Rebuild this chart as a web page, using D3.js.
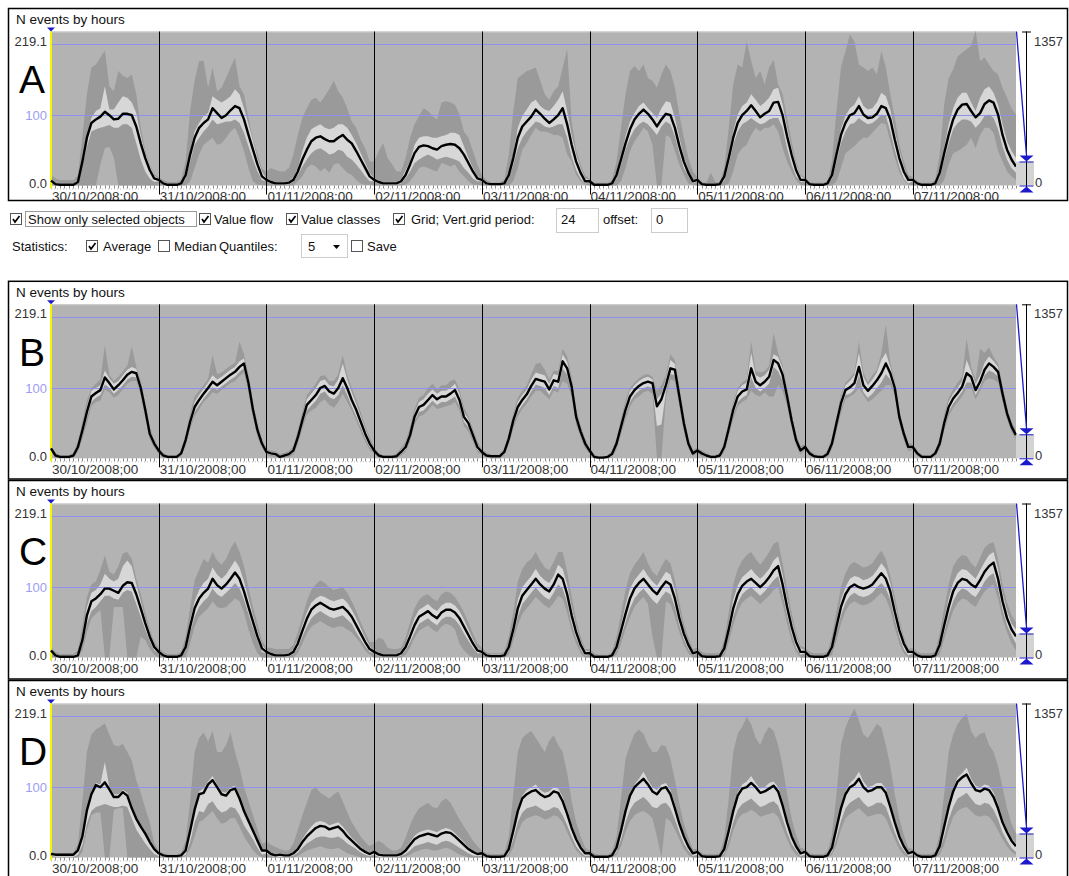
<!DOCTYPE html>
<html><head><meta charset="utf-8">
<script src="https://cdn.jsdelivr.net/npm/d3@7"></script>
<style>
body{margin:0;background:#fff;}
svg{display:block;font-family:"Liberation Sans",Arial,sans-serif;}
</style></head><body>
<svg id="chart" width="1069" height="876"></svg>
<script>
// ---------------- data ----------------
const dayLabels = ["30/10/2008;00","31/10/2008;00","01/11/2008;00","02/11/2008;00","03/11/2008;00","04/11/2008;00","05/11/2008;00","06/11/2008;00","07/11/2008;00"];
const panelLetters = ["A","B","C","D"];
const panelTitle = "N events by hours";
const yMaxValue = 219.1;
const yGridValues = [100, 200];
const yLabelTop = "219.1", yLabelMid = "100", yLabelBottom = "0.0";
const sliderLabels = ["1357", "0"];

const meanA = [
7,2,1,1,1,1, 5,34,68,89,94,98, 105,100,94,95,102,102, 100,84,60,39,22,10,
8,3,1,1,1,3, 15,44,68,82,89,94, 110,103,96,100,107,113, 110,94,72,51,30,13,
8,5,3,3,3,4, 8,20,37,51,63,68, 70,66,63,63,68,72, 65,60,49,37,25,13,
8,5,3,3,3,3, 6,15,30,46,55,57, 56,53,51,56,58,59, 58,53,44,32,20,10,
8,3,2,2,2,3, 15,39,68,84,91,98, 108,102,95,89,94,100, 110,87,58,34,18,6,
6,1,1,1,1,3, 15,37,60,80,94,102, 108,102,94,84,94,102, 100,82,56,34,18,6,
8,2,1,1,1,2, 13,39,68,89,100,106, 114,106,97,102,106,118, 119,100,70,44,22,8,
8,2,1,1,1,3, 15,44,72,89,100,103, 113,101,96,97,102,113, 110,94,65,39,20,8,
8,3,1,1,1,3, 18,46,72,94,108,115, 116,106,97,103,116,121, 118,101,72,51,37,27];
const lightHiA = [
9,4,3,3,3,3, 8,38,72,96,106,110, 141,108,108,118,127,125, 118,103,72,46,28,14,
10,5,3,3,3,5, 20,49,77,89,99,103, 127,122,118,122,127,137, 130,110,87,63,39,20,
10,7,5,5,5,6, 12,25,49,68,80,84, 87,82,80,82,87,87, 82,72,60,46,32,18,
10,7,5,5,5,5, 9,22,34,58,68,70, 70,68,68,70,72,75, 75,72,56,39,25,13,
10,5,4,4,4,5, 20,44,82,99,108,118, 122,113,108,106,113,122, 134,106,72,44,25,10,
8,3,3,3,3,5, 20,41,70,91,103,113, 118,110,103,96,110,120, 118,96,68,41,22,8,
10,4,3,3,3,4, 18,44,77,101,113,118, 130,122,113,118,125,137, 139,115,82,53,30,13,
10,4,3,3,3,5, 20,49,80,99,110,115, 127,113,108,110,118,132, 127,108,77,49,27,10,
10,5,3,3,3,5, 23,53,87,110,125,132, 132,118,106,125,137,141, 132,115,87,63,49,39];
const lightLoA = [
5,1,0,0,0,0, 3,28,55,77,80,82, 84,86,82,82,87,87, 82,60,37,20,10,5,
6,1,0,0,0,1, 10,34,58,68,77,84, 94,87,89,91,91,94, 89,75,56,37,20,8,
6,3,1,1,1,2, 5,15,27,37,46,51, 53,49,44,46,51,49, 41,37,30,22,13,6,
6,3,1,1,1,1, 3,10,20,32,37,41, 44,41,37,39,41,39, 37,34,25,18,10,6,
6,1,0,0,0,1, 10,30,53,68,77,84, 91,89,84,82,84,87, 87,68,41,22,10,3,
4,0,0,0,0,1, 10,30,51,68,80,87, 91,87,80,72,84,91, 87,70,46,25,13,3,
6,0,0,0,0,0, 8,30,58,77,87,91, 96,91,87,89,94,96, 96,82,53,30,13,5,
6,0,0,0,0,1, 10,34,60,77,87,89, 96,91,87,89,94,101, 99,77,51,27,10,3,
6,1,0,0,0,1, 12,37,60,80,89,94, 94,91,82,89,99,101, 96,80,56,37,25,18];
const darkHiA = [
15,10,8,8,8,8, 15,70,130,168,172,182, 192,141,134,163,156,153, 158,130,82,50,30,16,
12,8,5,5,5,8, 34,106,149,177,177,139, 168,134,139,153,168,182, 141,130,96,65,45,24,
20,25,22,20,20,25, 44,72,96,110,122,125, 118,127,137,149,134,125, 110,91,82,65,53,34,
34,49,60,39,30,20, 20,39,68,87,99,110, 106,99,94,118,120,118, 115,101,77,68,49,30,
15,8,5,5,5,8, 44,106,153,158,163,165, 168,149,130,122,134,141, 168,194,91,50,30,14,
10,4,4,4,4,8, 34,82,130,163,170,163, 172,153,149,139,158,172, 163,139,101,68,39,20,
12,5,4,18,5,5, 25,82,144,172,168,205, 177,153,163,144,168,179, 144,130,96,63,34,15,
12,5,4,4,4,6, 34,106,168,191,215,205, 172,168,163,168,158,191, 168,130,96,58,34,15,
12,6,4,4,4,8, 44,115,153,165,184,189, 194,199,220,177,182,172, 163,158,139,125,110,101];
const darkLoA = [
0,0,0,0,0,0, 0,0,0,0,0,30, 53,55,40,0,0,0, 0,0,0,0,0,0,
0,0,0,0,0,0, 0,6,25,44,58,63, 68,58,60,68,77,82, 68,49,25,6,1,1,
0,0,0,0,0,0, 0,6,13,25,30,27, 20,25,18,30,32,25, 18,15,8,3,1,1,
0,0,0,0,0,0, 0,1,6,15,25,27, 25,22,20,32,30,27, 30,20,13,6,1,1,
0,0,0,0,0,0, 0,6,25,51,60,72, 82,77,77,75,72,72, 68,44,34,15,6,1,
0,0,0,0,0,0, 0,6,25,49,63,72, 82,77,58,0,0,72, 68,49,30,15,3,1,
0,0,0,0,0,0, 0,3,20,44,53,58, 72,82,77,82,82,87, 77,53,34,20,8,1,
0,0,0,0,0,0, 0,6,25,46,51,56, 63,68,68,75,82,89, 87,63,39,20,8,1,
0,0,0,0,0,0, 0,8,30,46,49,53, 58,68,53,72,82,82, 75,49,34,20,13,8];

const meanB = [
14,4,2,2,2,4, 16,40,66,88,93,97, 115,107,98,104,111,119, 123,121,100,69,35,21,
11,4,2,2,2,7, 26,52,73,83,92,100, 109,104,109,114,119,123, 130,135,107,69,40,21,
9,7,6,2,4,6, 11,30,54,76,83,90, 100,103,95,92,100,114, 100,83,69,52,35,21,
11,4,2,2,2,3, 9,16,33,59,73,76, 83,90,84,88,88,92, 97,83,59,50,33,16,
9,4,3,3,3,9, 28,54,73,83,91,103, 113,111,109,98,111,109, 138,128,102,59,38,21,
11,2,1,1,2,6, 21,45,69,88,97,103, 107,109,107,74,84,104, 128,126,88,50,21,7,
11,7,4,2,2,4, 16,42,69,88,95,98, 128,109,104,109,116,140, 135,119,88,54,26,11,
16,7,3,2,2,6, 21,50,78,97,101,107, 130,104,96,103,111,121, 135,121,100,59,35,16,
16,7,2,2,2,7, 21,50,73,85,93,102, 121,116,97,109,126,135, 130,123,92,64,45,33];
const lightHiB = [
16,6,3,3,3,6, 20,46,74,96,100,104, 125,114,106,110,118,126, 130,127,106,75,40,25,
13,6,3,3,3,9, 30,58,80,90,99,108, 118,112,116,121,126,130, 138,142,114,75,45,24,
11,9,8,4,6,8, 14,35,60,84,92,100, 110,112,104,102,112,135, 112,94,78,60,42,26,
13,6,3,3,3,5, 12,20,38,65,80,84, 92,98,92,96,96,100, 106,92,66,56,38,20,
11,6,4,4,4,12, 32,60,80,90,98,112, 122,120,118,106,120,118, 148,137,110,65,42,24,
13,4,2,2,3,9, 25,51,76,96,104,110, 114,116,112,84,92,112, 140,134,96,56,24,9,
13,9,6,3,3,6, 20,48,76,96,104,108, 150,118,115,118,126,148, 144,128,96,60,30,14,
18,9,5,3,3,9, 25,56,85,104,110,118, 150,116,104,112,122,140, 150,130,106,64,38,18,
18,9,3,3,3,9, 25,56,80,92,100,110, 140,124,106,118,136,145, 138,130,98,68,48,36];
const lightLoB = [
12,2,1,1,1,2, 12,34,58,80,86,90, 105,100,92,97,104,112, 116,115,94,63,31,18,
9,2,1,1,1,5, 21,46,66,76,85,93, 101,97,102,107,112,116, 123,128,100,63,35,18,
7,5,4,1,2,4, 8,25,48,68,75,82, 92,95,87,84,90,104, 90,74,60,44,29,16,
9,2,1,1,1,1, 6,12,28,53,66,68, 75,82,76,80,80,84, 88,74,52,44,28,12,
7,2,1,1,1,6, 24,48,66,76,84,95, 105,103,100,90,103,100, 128,119,94,53,34,18,
9,0,0,0,1,3, 17,39,62,80,90,96, 100,102,100,46,48,94, 120,118,80,44,18,5,
9,5,2,1,1,2, 12,36,62,80,86,90, 115,100,95,100,106,130, 124,110,80,48,22,8,
14,5,2,1,1,4, 17,44,70,90,92,98, 118,94,86,92,100,108, 120,112,94,53,30,13,
14,5,1,1,1,5, 17,44,66,78,86,95, 108,108,90,102,118,125, 122,116,86,60,42,30];
const darkHiB = [
18,8,4,4,4,8, 24,52,82,100,106,112, 161,118,110,116,124,132, 159,130,110,78,44,27,
15,8,4,4,4,11, 34,64,88,96,104,113, 147,120,122,127,132,136, 166,148,118,80,50,26,
13,11,10,6,8,10, 17,40,66,90,98,106, 117,118,110,110,120,147, 118,100,84,66,46,30,
15,8,4,4,4,7, 15,24,44,70,86,90, 100,106,98,104,104,110, 112,98,72,60,42,24,
13,8,5,5,5,14, 36,64,86,96,104,120, 134,136,126,112,125,124, 156,145,116,70,46,28,
15,6,3,3,4,11, 29,56,82,100,108,114, 118,120,116,96,104,118, 148,140,100,60,28,12,
15,11,8,4,4,8, 24,52,80,100,108,112, 166,124,122,124,132,178, 150,132,100,64,34,17,
20,11,7,4,4,11, 29,60,90,108,114,122, 166,122,108,118,126,150, 190,136,110,68,42,22,
20,11,5,4,4,11, 29,62,86,98,108,116, 170,130,112,156,150,158, 144,135,104,72,52,40];
const darkLoB = [
10,1,0,0,0,1, 9,28,50,74,80,82, 98,94,86,90,98,106, 110,110,90,58,27,15,
7,1,0,0,0,3, 18,42,60,70,80,86, 94,92,97,102,107,110, 117,122,95,58,30,15,
5,3,2,0,1,2, 5,20,42,62,68,72, 80,84,76,72,80,92, 80,68,54,38,24,12,
7,1,0,0,0,0, 4,9,24,48,60,62, 68,76,70,72,74,76, 80,68,46,38,24,9,
5,1,0,0,0,4, 20,42,60,70,78,88, 96,96,90,84,96,94, 110,106,88,48,30,14,
7,0,0,0,0,1, 13,34,56,74,84,88, 94,96,92,0,0,86, 112,110,74,38,14,3,
7,3,1,0,0,1, 9,32,56,74,80,84, 96,90,88,94,88,88, 104,96,74,44,18,5,
12,3,1,0,0,2, 13,38,64,84,88,92, 100,90,80,84,90,96, 104,104,90,50,26,10,
12,3,0,0,0,3, 13,40,60,72,80,88, 100,100,84,96,110,114, 112,108,80,56,38,27];

const meanC = [
10,3,1,1,1,1, 3,25,60,80,84,90, 98,98,95,92,102,107, 106,90,70,49,30,15,
8,3,1,1,1,3, 15,44,70,84,92,98, 112,103,98,104,112,121, 112,94,72,51,30,13,
8,5,3,3,3,4, 8,20,38,55,68,74, 78,74,70,68,70,72, 66,58,46,34,22,12,
8,5,3,3,3,3, 6,15,30,46,58,62, 66,60,56,64,68,68, 64,56,44,32,20,10,
8,3,2,2,2,3, 15,40,70,88,96,104, 112,104,98,94,104,118, 112,90,60,36,18,6,
6,1,1,1,1,3, 15,38,62,84,98,106, 112,104,96,90,100,108, 104,84,56,34,18,6,
8,2,1,1,1,2, 13,40,70,90,102,108, 112,106,100,106,114,124, 130,104,72,44,22,8,
8,2,1,1,1,3, 15,44,72,90,100,104, 100,98,100,104,112,120, 112,94,65,39,20,8,
8,3,1,1,1,3, 18,46,72,94,106,112, 110,104,100,110,122,130, 135,112,80,56,40,30];
const lightHiC = [
12,5,3,3,3,3, 6,35,72,92,96,104, 119,112,108,112,130,138, 130,104,80,56,36,18,
10,5,3,3,3,5, 20,52,80,96,106,112, 128,118,112,118,128,138, 128,108,84,60,38,18,
10,7,5,5,5,6, 12,26,46,64,78,84, 88,86,82,80,82,84, 78,68,56,42,28,16,
10,7,5,5,5,5, 9,20,38,56,68,72, 76,70,66,74,78,78, 74,66,54,40,26,14,
10,5,4,4,4,5, 20,48,82,100,108,116, 126,116,110,106,116,132, 126,104,72,44,24,10,
8,3,3,3,3,5, 20,46,74,98,110,118, 126,116,108,102,112,122, 118,96,66,40,22,8,
10,4,3,3,3,4, 18,48,82,102,114,120, 126,118,112,118,126,138, 144,118,84,54,30,13,
10,4,3,3,3,5, 20,52,82,100,112,116, 114,110,112,116,124,134, 126,106,76,48,26,10,
10,5,3,3,3,5, 23,54,84,106,120,126, 124,118,112,124,136,146, 150,126,92,66,48,40];
const lightLoC = [
7,1,0,0,0,0, 1,18,48,66,72,80, 88,88,84,82,92,96, 94,76,58,40,24,10,
6,1,0,0,0,1, 10,36,58,72,80,86, 98,90,86,92,98,106, 98,82,62,42,24,8,
6,3,1,1,1,2, 5,14,30,44,56,62, 66,62,58,56,58,60, 54,48,36,26,16,8,
6,3,1,1,1,1, 3,10,22,36,48,52, 56,50,46,54,58,58, 54,46,34,24,14,6,
6,1,0,0,0,1, 10,32,58,76,84,92, 100,92,86,82,92,104, 98,78,48,28,12,3,
4,0,0,0,0,1, 10,30,50,70,84,92, 98,90,82,76,86,94, 90,72,46,26,12,3,
6,0,0,0,0,0, 8,32,58,78,90,96, 100,94,88,94,102,110, 116,90,60,34,14,4,
6,0,0,0,0,1, 10,36,60,78,88,92, 88,86,88,92,100,106, 98,82,54,30,12,3,
6,1,0,0,0,1, 12,36,60,80,92,98, 96,90,86,96,108,116, 120,98,68,46,32,20];
const darkHiC = [
15,8,5,5,5,5, 10,46,86,104,108,125, 145,122,118,130,148,150, 140,112,90,64,40,22,
14,8,5,5,5,8, 30,70,110,125,140,135, 150,138,132,140,155,165, 150,130,100,72,48,24,
14,14,12,12,12,12, 18,36,58,80,96,104, 110,106,100,96,98,100, 92,80,66,50,36,22,
22,28,26,14,12,12, 14,28,50,70,82,88, 90,84,80,90,94,92, 86,76,64,50,34,20,
14,8,6,6,6,8, 30,64,108,126,135,140, 150,138,128,124,136,150, 150,122,86,54,30,12,
12,6,4,4,4,8, 30,62,96,120,132,140, 150,134,122,116,130,140, 134,110,78,48,28,12,
14,8,6,6,6,6, 26,64,104,126,138,146, 150,140,132,140,150,162, 165,134,98,64,36,16,
14,8,6,6,6,8, 30,66,100,120,132,136, 132,128,130,134,144,152, 140,116,86,54,30,12,
14,8,6,6,6,8, 34,70,104,130,140,146, 144,134,128,142,156,162, 164,140,104,78,60,50];
const darkLoC = [
0,0,0,0,0,0, 0,10,36,56,62,68, 0,0,72,72,72,0, 0,0,30,25,12,4,
0,0,0,0,0,0, 0,20,44,58,64,70, 80,72,70,72,78,84, 80,64,40,20,6,0,
0,0,0,0,0,0, 0,6,20,34,44,48, 52,48,44,42,44,44, 40,36,28,20,10,4,
0,0,0,0,0,0, 0,4,14,28,38,42, 46,40,36,44,48,46, 40,20,10,4,0,0,
0,0,0,0,0,0, 4,24,46,62,70,78, 86,80,74,70,78,88, 84,64,38,20,6,0,
0,0,0,0,0,0, 4,20,40,58,72,80, 86,76,30,0,0,80, 76,58,36,18,6,0,
0,0,0,0,0,0, 2,22,46,66,78,84, 88,82,76,82,88,96, 100,76,48,24,8,0,
0,0,0,0,0,0, 4,24,48,66,76,80, 76,74,76,80,86,92, 84,68,42,20,6,0,
0,0,0,0,0,0, 4,26,48,66,78,84, 82,76,72,84,94,100, 104,84,56,36,20,10];

const meanD = [
5,4,4,4,4,4, 10,30,67,90,103,100, 107,97,86,86,93,88, 70,55,44,34,22,12,
6,3,2,2,2,3, 10,38,68,90,92,104, 110,100,90,88,96,98, 84,66,52,38,24,10,
10,5,3,4,3,3, 6,12,22,30,36,42, 45,44,40,42,44,38, 30,24,18,12,8,5,
8,4,3,3,3,3, 5,10,18,26,30,32, 34,32,30,34,36,35, 30,24,18,12,8,5,
6,2,1,1,1,2, 12,38,66,84,90,94, 96,90,86,88,94,92, 80,62,42,26,14,6,
6,1,1,1,1,3, 14,38,66,88,100,106, 112,104,94,90,98,100, 90,70,48,30,16,6,
8,2,1,1,1,2, 12,38,66,88,98,100, 106,100,92,94,98,102, 94,74,50,30,16,6,
8,2,1,1,1,3, 14,42,70,90,100,104, 112,100,94,96,100,100, 92,72,50,30,16,6,
8,3,1,1,1,3, 16,44,72,94,108,114, 118,106,96,94,98,96, 86,70,50,36,24,16];
const lightHiD = [
6,5,5,5,5,5, 11,32,70,94,106,104, 136,100,90,90,96,92, 74,58,46,36,24,14,
8,5,4,4,4,5, 12,40,72,94,98,108, 116,104,94,92,100,102, 86,68,54,40,26,12,
12,7,5,6,5,5, 8,15,26,36,44,50, 52,50,46,48,50,44, 36,28,22,15,10,7,
10,6,5,5,5,5, 7,13,22,31,36,38, 40,38,36,40,42,40, 35,28,22,15,10,7,
8,4,3,3,3,4, 15,42,70,88,96,100, 104,96,92,94,100,98, 86,68,48,30,18,8,
8,3,3,3,3,5, 17,42,70,92,104,112, 122,110,100,96,104,106, 96,76,54,34,20,8,
10,4,3,3,3,4, 15,42,70,92,104,108, 116,106,98,100,106,108, 100,80,56,34,20,8,
10,4,3,3,3,5, 17,46,74,94,106,112, 122,108,100,102,106,106, 98,78,56,34,20,8,
10,5,3,3,3,5, 19,48,76,98,114,120, 128,112,102,100,104,102, 92,76,56,40,28,20];
const lightLoD = [
2,1,1,1,1,1, 4,18,48,66,72,74, 76,74,72,72,74,72, 56,40,30,20,12,5,
2,1,0,0,0,1, 4,22,50,66,64,76, 80,70,64,66,72,70, 60,46,36,26,14,4,
6,2,1,1,1,1, 3,7,14,20,24,28, 30,30,28,28,30,26, 20,16,12,7,4,2,
4,1,0,0,0,0, 2,5,10,16,18,20, 22,20,18,22,24,22, 18,14,10,6,3,2,
3,0,0,0,0,0, 6,26,50,64,70,72, 74,70,66,68,72,70, 60,46,30,16,8,2,
3,0,0,0,0,1, 8,26,50,68,78,82, 86,80,72,70,76,78, 70,54,36,20,10,2,
4,0,0,0,0,0, 6,26,50,68,76,80, 84,78,72,74,78,80, 74,56,36,20,10,2,
4,0,0,0,0,1, 8,28,52,70,78,82, 86,78,72,74,78,78, 72,54,36,20,10,2,
4,1,0,0,0,1, 10,30,54,72,84,88, 92,84,76,74,78,76, 68,54,36,24,14,8];
const darkHiD = [
8,6,6,6,6,6, 20,80,150,175,182,186, 191,175,160,158,162,150, 138,110,92,70,50,20,
10,6,5,5,5,6, 24,80,150,170,178,165, 180,150,150,160,178,150, 128,100,80,60,40,20,
22,18,15,12,10,10, 20,40,60,78,96,100, 92,88,84,90,94,80, 64,50,40,30,22,16,
20,24,20,14,10,10, 14,28,46,60,70,74, 78,72,70,80,84,78, 66,54,44,34,24,16,
10,6,5,5,5,6, 30,90,150,170,176,180, 170,160,150,166,174,160, 150,120,80,50,30,14,
10,6,4,4,4,8, 30,84,140,160,176,182, 176,160,150,150,160,158, 140,110,76,48,28,12,
12,6,5,5,5,6, 28,84,150,176,186,200, 190,170,160,176,186,180, 160,130,90,56,32,14,
12,6,5,5,5,8, 32,90,160,185,200,212, 195,175,170,180,190,185, 160,130,90,56,32,14,
12,6,5,5,5,8, 34,90,150,175,190,198, 205,180,170,176,178,160, 150,130,100,70,48,34];
const darkLoD = [
0,0,0,0,0,0, 0,8,40,60,64,64, 0,0,68,70,70,0, 0,0,0,0,0,0,
0,0,0,0,0,0, 2,12,30,50,54,60, 66,56,48,50,56,56, 44,30,20,10,4,0,
0,0,0,0,0,0, 0,2,6,10,12,14, 16,14,12,12,14,10, 6,4,2,0,0,0,
0,0,0,0,0,0, 0,1,4,8,10,12, 12,10,10,12,14,12, 8,4,2,0,0,0,
0,0,0,0,0,0, 2,14,36,50,56,58, 60,58,54,56,60,58, 50,36,22,10,4,0,
0,0,0,0,0,0, 4,16,36,52,60,64, 66,62,56,30,0,56, 52,40,26,12,4,0,
0,0,0,0,0,0, 2,16,38,54,62,64, 68,64,58,60,62,64, 58,42,26,12,4,0,
0,0,0,0,0,0, 4,18,40,56,62,66, 70,64,58,60,62,62, 56,40,26,12,4,0,
0,0,0,0,0,0, 4,18,40,58,66,70, 72,66,60,58,60,58, 50,38,26,16,8,4];

// controls text
const row1Items = ["Show only selected objects", "Value flow", "Value classes", "Grid; Vert.grid period:"];
const row1Checked = [true, true, true, true];
const gridPeriod = "24", gridOffsetLabel = "offset:", gridOffset = "0";
const row2Label = "Statistics:";
const row2Items = ["Average", "Median"];
const row2Checked = [true, false];
const quantLabel = "Quantiles:", quantValue = "5", saveLabel = "Save";

// ---------------- drawing ----------------
const svg = d3.select("#chart");
const COL = {bg:"#b3b3b3", dark:"#9a9a9a", light:"#d7d7d7", grid:"#8f8ff0", gridText:"#9d9df2", text:"#333", blue:"#1a1acc"};
const panels = [
  {letter:panelLetters[0], boxTop:8, boxBottom:201, mean:meanA, lLo:lightLoA, lHi:lightHiA, dLo:darkLoA, dHi:darkHiA},
  {letter:panelLetters[1], boxTop:280.8, boxBottom:479.5, mean:meanB, lLo:lightLoB, lHi:lightHiB, dLo:darkLoB, dHi:darkHiB},
  {letter:panelLetters[2], boxTop:480, boxBottom:679.5, mean:meanC, lLo:lightLoC, lHi:lightHiC, dLo:darkLoC, dHi:darkHiC},
  {letter:panelLetters[3], boxTop:680, boxBottom:884, mean:meanD, lLo:lightLoD, lHi:lightHiD, dLo:darkLoD, dHi:darkHiD}
];
const nHours = dayLabels.length * 24;
const x = d3.scaleLinear().domain([0, nHours - 1]).range([51, 1016]);
const idx = d3.range(nHours);

panels.forEach((p, pi) => {
  const g = svg.append("g");
  const pt = p.boxTop + 23.5, pb = pt + 154;
  const y = d3.scaleLinear().domain([0, yMaxValue]).range([pb, pt]);
  const clipId = "clip" + pi;
  svg.append("clipPath").attr("id", clipId).append("rect")
    .attr("x", 8).attr("y", p.boxTop).attr("width", 1060).attr("height", p.boxBottom - p.boxTop);
  const gc = g.append("g").attr("clip-path", `url(#${clipId})`);

  gc.append("text").attr("x", 16).attr("y", p.boxTop + 16).attr("font-size", 13.5).attr("fill", "#111").text(panelTitle);

  // plot bg
  gc.append("rect").attr("x", x(0)).attr("y", pt).attr("width", x(nHours - 1) - x(0)).attr("height", pb - pt).attr("fill", COL.bg);
  gc.append("line").attr("x1", x(0)).attr("x2", x(nHours-1)).attr("y1", pt + 0.5).attr("y2", pt + 0.5).attr("stroke", "#cfcfcf");

  const areaDark = d3.area().x(i => x(i)).y0(i => y(p.dLo[i])).y1(i => y(p.dHi[i]));
  const areaLight = d3.area().x(i => x(i)).y0(i => y(p.lLo[i])).y1(i => y(p.lHi[i]));
  gc.append("path").attr("d", areaDark(idx)).attr("fill", COL.dark);
  gc.append("path").attr("d", areaLight(idx)).attr("fill", COL.light);

  // horizontal grid
  yGridValues.forEach(v => {
    const yy = Math.floor(y(v)) + 0.5;
    gc.append("line").attr("x1", x(0)).attr("x2", x(nHours - 1)).attr("y1", yy).attr("y2", yy)
      .attr("stroke", COL.grid).attr("stroke-width", 1).attr("shape-rendering", "crispEdges");
  });

  // hour ticks
  const tickG = gc.append("g");
  idx.forEach(i => {
    tickG.append("line").attr("x1", Math.round(x(i)) + 0.5).attr("x2", Math.round(x(i)) + 0.5)
      .attr("y1", pb).attr("y2", pb + 3).attr("stroke", "#8a8a8a");
  });
  gc.append("line").attr("x1", x(0)).attr("x2", x(nHours - 1)).attr("y1", pb + 3.5).attr("y2", pb + 3.5)
    .attr("stroke", "#bbb").attr("stroke-dasharray", "1,2");

  // day separators
  dayLabels.forEach((lab, d) => {
    const xx = Math.round(x(d * 24)) + 0.5;
    if (d > 0) {
      gc.append("line").attr("x1", xx).attr("x2", xx).attr("y1", pt).attr("y2", pb + 9).attr("stroke", "#000");
    }
    gc.append("text").attr("x", x(d * 24) + 1).attr("y", pb + 15.5).attr("font-size", 13.5).attr("fill", COL.text).text(lab);
  });
  // yellow first line
  gc.append("line").attr("x1", x(0)).attr("x2", x(0)).attr("y1", pt).attr("y2", pb + 3).attr("stroke", "#f5f500").attr("stroke-width", 2);
  // blue marker top-left
  gc.append("path").attr("d", `M${x(0)-4},${pt-4} L${x(0)+4},${pt-4} L${x(0)},${pt} Z`).attr("fill", COL.blue);

  // mean line
  const line = d3.line().x(i => x(i)).y(i => y(p.mean[i]));
  gc.append("path").attr("d", line(idx)).attr("fill", "none").attr("stroke", "#000").attr("stroke-width", 2.4).attr("stroke-linejoin", "round");

  // y labels
  gc.append("text").attr("x", 47).attr("y", pt + 14).attr("text-anchor", "end").attr("font-size", 13).attr("fill", COL.text).text(yLabelTop);
  gc.append("text").attr("x", 47).attr("y", y(100) + 5).attr("text-anchor", "end").attr("font-size", 13).attr("fill", COL.gridText).text(yLabelMid);
  gc.append("text").attr("x", 47).attr("y", pb + 2.5).attr("text-anchor", "end").attr("font-size", 13).attr("fill", COL.text).text(yLabelBottom);

  // big letter
  gc.append("text").attr("x", 19).attr("y", pt + 61.5).attr("font-size", 39).attr("fill", "#000").text(p.letter);

  // right slider
  const sx = 1026.5;
  const handleY = pt + 128;
  gc.append("rect").attr("x", 1016).attr("y", handleY + 2).attr("width", 18).attr("height", pb - handleY - 2).attr("fill", "#d3d3d3");
  gc.append("line").attr("x1", sx).attr("x2", sx).attr("y1", pt).attr("y2", pb + 2).attr("stroke", "#000");
  gc.append("line").attr("x1", sx - 4.5).attr("x2", sx + 4.5).attr("y1", pt + 0.5).attr("y2", pt + 0.5).attr("stroke", "#000");
  gc.append("line").attr("x1", 1016.5).attr("x2", sx).attr("y1", pt).attr("y2", handleY - 4).attr("stroke", COL.blue).attr("stroke-width", 1.3);
  gc.append("path").attr("d", `M${sx-7},${handleY-4} L${sx+7},${handleY-4} L${sx},${handleY+2} Z`).attr("fill", COL.blue);
  gc.append("line").attr("x1", sx - 7).attr("x2", sx + 7).attr("y1", handleY + 2.5).attr("y2", handleY + 2.5).attr("stroke", COL.blue);
  gc.append("path").attr("d", `M${sx},${pb + 1} L${sx+7},${pb+7} L${sx-7},${pb+7} Z`).attr("fill", COL.blue);
  gc.append("line").attr("x1", sx - 7).attr("x2", sx + 7).attr("y1", pb + 0.5).attr("y2", pb + 0.5).attr("stroke", COL.blue);
  gc.append("text").attr("x", 1034).attr("y", pt + 14).attr("font-size", 13).attr("fill", COL.text).text(sliderLabels[0]);
  gc.append("text").attr("x", 1035).attr("y", pb + 1.5).attr("font-size", 13).attr("fill", COL.text).text(sliderLabels[1]);

  // box
  g.append("rect").attr("x", 8.5).attr("y", p.boxTop + 0.5).attr("width", 1059).attr("height", p.boxBottom - p.boxTop - 1)
    .attr("fill", "none").attr("stroke", "#000").attr("stroke-width", 1.5);
});

// ---------------- controls ----------------
function checkbox(x0, y0, checked) {
  svg.append("rect").attr("x", x0 + 0.5).attr("y", y0 + 0.5).attr("width", 11).attr("height", 11).attr("fill", "#fff").attr("stroke", "#555");
  if (checked) {
    svg.append("path").attr("d", `M${x0+3},${y0+6} L${x0+5},${y0+9} L${x0+9.5},${y0+3}`).attr("fill", "none").attr("stroke", "#000").attr("stroke-width", 1.7);
  }
}
const r1y = 219, r2y = 246;
const r1Box = [10, 199, 286, 393];
const r1Text = [28, 214, 301, 411];
row1Items.forEach((t, i) => {
  checkbox(r1Box[i], r1y - 6, row1Checked[i]);
  svg.append("text").attr("x", r1Text[i]).attr("y", r1y + 4.5).attr("font-size", 13).attr("fill", "#111").text(t);
});
svg.append("rect").attr("x", 25.5).attr("y", 211.5).attr("width", 171).attr("height", 15).attr("fill", "none")
  .attr("stroke", "#333").attr("stroke-dasharray", "1,1");
svg.append("rect").attr("x", 556.5).attr("y", 208.5).attr("width", 42).attr("height", 24).attr("fill", "#fff").attr("stroke", "#ccc");
svg.append("text").attr("x", 561).attr("y", r1y + 4.5).attr("font-size", 13).attr("fill", "#111").text(gridPeriod);
svg.append("text").attr("x", 603).attr("y", r1y + 4.5).attr("font-size", 13).attr("fill", "#111").text(gridOffsetLabel);
svg.append("rect").attr("x", 651.5).attr("y", 208.5).attr("width", 36).attr("height", 24).attr("fill", "#fff").attr("stroke", "#ccc");
svg.append("text").attr("x", 656).attr("y", r1y + 4.5).attr("font-size", 13).attr("fill", "#111").text(gridOffset);

svg.append("text").attr("x", 12).attr("y", r2y + 4.5).attr("font-size", 13).attr("fill", "#111").text(row2Label);
const r2Box = [86, 158], r2Text = [103, 174];
row2Items.forEach((t, i) => {
  checkbox(r2Box[i], r2y - 6, row2Checked[i]);
  svg.append("text").attr("x", r2Text[i]).attr("y", r2y + 4.5).attr("font-size", 13).attr("fill", "#111").text(t);
});
svg.append("text").attr("x", 219).attr("y", r2y + 4.5).attr("font-size", 13).attr("fill", "#111").text(quantLabel);
svg.append("rect").attr("x", 301.5).attr("y", 234.5).attr("width", 46).attr("height", 23).attr("fill", "#fff").attr("stroke", "#ccc");
svg.append("text").attr("x", 308).attr("y", r2y + 4.5).attr("font-size", 13).attr("fill", "#111").text(quantValue);
svg.append("path").attr("d", "M333,245 L340,245 L336.5,249 Z").attr("fill", "#000");
checkbox(351, r2y - 6, false);
svg.append("text").attr("x", 367).attr("y", r2y + 4.5).attr("font-size", 13).attr("fill", "#111").text(saveLabel);
</script>
</body></html>
